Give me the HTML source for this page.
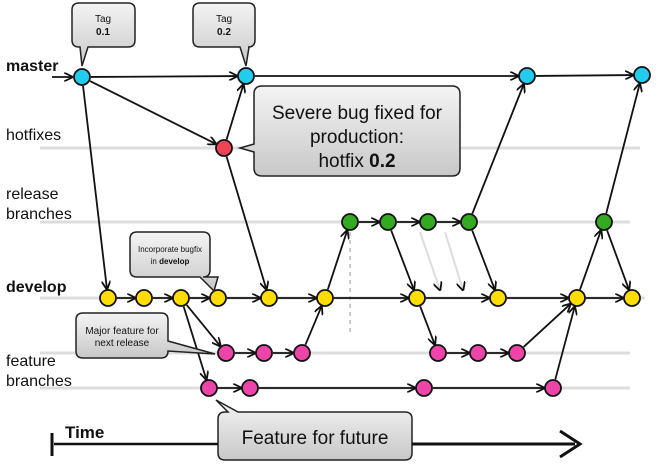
<!DOCTYPE html>
<html><head><meta charset="utf-8"><style>
html,body{margin:0;padding:0;background:#fff;}
svg{display:block;}
text{font-family:"Liberation Sans","DejaVu Sans",sans-serif;fill:#111;}
</style></head><body>
<svg id="s" width="658" height="464" viewBox="0 0 658 464" xmlns="http://www.w3.org/2000/svg">
<defs>
<linearGradient id="g" x1="0" y1="0" x2="0" y2="1"><stop offset="0" stop-color="#f4f4f4"/><stop offset="1" stop-color="#c8c8c8"/></linearGradient>
<marker id="a" viewBox="0 0 10 10" refX="9" refY="5" markerWidth="9" markerHeight="9" markerUnits="userSpaceOnUse" orient="auto"><path d="M0,0 L10,5 L0,10" fill="none" stroke="#111" stroke-width="2"/></marker>
</defs>
<g stroke="#ddd" stroke-width="3">
<line x1="40" y1="148" x2="640" y2="148"/>
<line x1="40" y1="222" x2="630" y2="222"/>
<line x1="40" y1="298" x2="645" y2="298"/>
<line x1="40" y1="353" x2="630" y2="353"/>
<line x1="40" y1="388" x2="630" y2="388"/>
</g>
<line x1="350" y1="232" x2="350" y2="335" stroke="#ccc" stroke-width="2" stroke-dasharray="4,4"/>
<g stroke="#ddd" stroke-width="2" marker-end="url(#a)">
<line x1="420" y1="232" x2="440" y2="290"/>
<line x1="445" y1="232" x2="463" y2="290"/>
</g>
<g id="edges" stroke="#111" stroke-width="1.8" fill="none"></g>
<line x1="52" y1="77" x2="72" y2="77" stroke="#111" stroke-width="1.8" marker-end="url(#a)"/>
<g id="nodes" stroke="#111" stroke-width="1.8"></g>
<!-- callouts -->
<g stroke="#222" stroke-width="1.5" fill="url(#g)">
<path d="M80,3 H128 Q135,3 135,10 V40 Q135,47 128,47 H88 L82,66 L80,47 H79 Q72,47 72,40 V10 Q72,3 79,3 Z"/>
<path d="M200,3 H248 Q255,3 255,10 V40 Q255,47 248,47 H249 L246,66 L240,47 H200 Q193,47 193,40 V10 Q193,3 200,3 Z"/>
<path d="M262,86 H452 Q460,86 460,94 V168 Q460,176 452,176 H262 Q254,176 254,168 V152 L240,148 L254,144 V94 Q254,86 262,86 Z"/>
<path d="M137,232 H203 Q210,232 210,239 V270 Q210,277 203,277 H218 L214,291 L200,277 H137 Q130,277 130,270 V239 Q130,232 137,232 Z"/>
<path d="M83,313 H161 Q168,313 168,320 V341 L215,354 L168,351 Q168,358 161,358 H83 Q76,358 76,351 V320 Q76,313 83,313 Z"/>
<path d="M225,412 H228 L216,400 L238,412 H405 Q412,412 412,419 V453 Q412,460 405,460 H225 Q218,460 218,453 V419 Q218,412 225,412 Z"/>
</g>
<text x="103" y="22" font-size="10" text-anchor="middle">Tag</text>
<text x="103" y="35" font-size="10" font-weight="bold" text-anchor="middle">0.1</text>
<text x="224" y="22" font-size="10" text-anchor="middle">Tag</text>
<text x="224" y="35" font-size="10" font-weight="bold" text-anchor="middle">0.2</text>
<text x="357" y="119" font-size="19" text-anchor="middle">Severe bug fixed for</text>
<text x="357" y="143" font-size="19" text-anchor="middle">production:</text>
<text x="357" y="167" font-size="19" text-anchor="middle">hotfix <tspan font-weight="bold">0.2</tspan></text>
<text x="170" y="252" font-size="8" text-anchor="middle">Incorporate bugfix</text>
<text x="170" y="264" font-size="8" text-anchor="middle">in <tspan font-weight="bold">develop</tspan></text>
<text x="122" y="334" font-size="10" text-anchor="middle">Major feature for</text>
<text x="122" y="346" font-size="10" text-anchor="middle">next release</text>
<text x="315" y="444" font-size="19" text-anchor="middle">Feature for future</text>
<!-- labels -->
<text x="6" y="71" font-size="16" font-weight="bold">master</text>
<text x="6" y="140" font-size="16">hotfixes</text>
<text x="6" y="199" font-size="16">release</text>
<text x="6" y="219" font-size="16">branches</text>
<text x="6" y="292" font-size="16" font-weight="bold">develop</text>
<text x="6" y="366" font-size="16">feature</text>
<text x="6" y="386" font-size="16">branches</text>
<text x="65" y="438" font-size="17" font-weight="bold">Time</text>
<line x1="52" y1="433" x2="52" y2="456" stroke="#111" stroke-width="3"/>
<line x1="54" y1="444" x2="218" y2="444" stroke="#111" stroke-width="2.5"/>
<line x1="412" y1="444" x2="575" y2="444" stroke="#111" stroke-width="3"/>
<path d="M560,431 L580,444 L560,457" fill="none" stroke="#111" stroke-width="3"/>
<script>
var N={m1:[82,77,'#22ccee'],m2:[246,76,'#22ccee'],m3:[527,76,'#22ccee'],m4:[642,75,'#22ccee'],
h1:[224,148,'#ee4455'],
r1:[350,222,'#33aa22'],r2:[388,222,'#33aa22'],r3:[428,222,'#33aa22'],r4:[469,222,'#33aa22'],r5:[604,222,'#33aa22'],
d1:[108,298,'#ffdd00'],d2:[144,298,'#ffdd00'],d3:[181,298,'#ffdd00'],d4:[218,298,'#ffdd00'],d5:[269,298,'#ffdd00'],d6:[325,298,'#ffdd00'],d7:[417,298,'#ffdd00'],d8:[498,298,'#ffdd00'],d9:[577,298,'#ffdd00'],d10:[632,298,'#ffdd00'],
f1:[226,353,'#ee44aa'],f2:[264,353,'#ee44aa'],f3:[302,353,'#ee44aa'],f4:[438,353,'#ee44aa'],f5:[478,353,'#ee44aa'],f6:[517,353,'#ee44aa'],
g1:[209,388,'#ee44aa'],g2:[250,388,'#ee44aa'],g3:[424,388,'#ee44aa'],g4:[553,388,'#ee44aa']};
var E=[['m1','m2'],['m2','m3'],['m3','m4'],['m1','h1'],['m1','d1'],['h1','m2'],['h1','d5'],
['d1','d2'],['d2','d3'],['d3','d4'],['d4','d5'],['d5','d6'],['d6','d7'],['d7','d8'],['d8','d9'],['d9','d10'],
['d3','f1'],['d3','g1'],['f1','f2'],['f2','f3'],['f3','d6'],['d6','r1'],['r1','r2'],['r2','r3'],['r3','r4'],
['r2','d7'],['r4','d8'],['r4','m3'],['d7','f4'],['f4','f5'],['f5','f6'],['f6','d9'],['g1','g2'],['g2','g3'],['g3','g4'],['g4','d9'],
['d9','r5'],['r5','m4'],['r5','d10']];
var ns='http://www.w3.org/2000/svg',eg=document.getElementById('edges'),ng=document.getElementById('nodes');
E.forEach(function(e){var a=N[e[0]],b=N[e[1]],dx=b[0]-a[0],dy=b[1]-a[1],l=Math.sqrt(dx*dx+dy*dy),ux=dx/l,uy=dy/l;
var L=document.createElementNS(ns,'line');L.setAttribute('x1',a[0]+ux*9);L.setAttribute('y1',a[1]+uy*9);
L.setAttribute('x2',b[0]-ux*9);L.setAttribute('y2',b[1]-uy*9);
if(!(e[0]=='g2'&&e[1]=='g3'))L.setAttribute('marker-end','url(#a)');else L.setAttribute('marker-end','url(#a)');
eg.appendChild(L);});
for(var k in N){var c=document.createElementNS(ns,'circle');c.setAttribute('cx',N[k][0]);c.setAttribute('cy',N[k][1]);c.setAttribute('r',8);c.setAttribute('fill',N[k][2]);ng.appendChild(c);}
</script>
</svg>
</body></html>
